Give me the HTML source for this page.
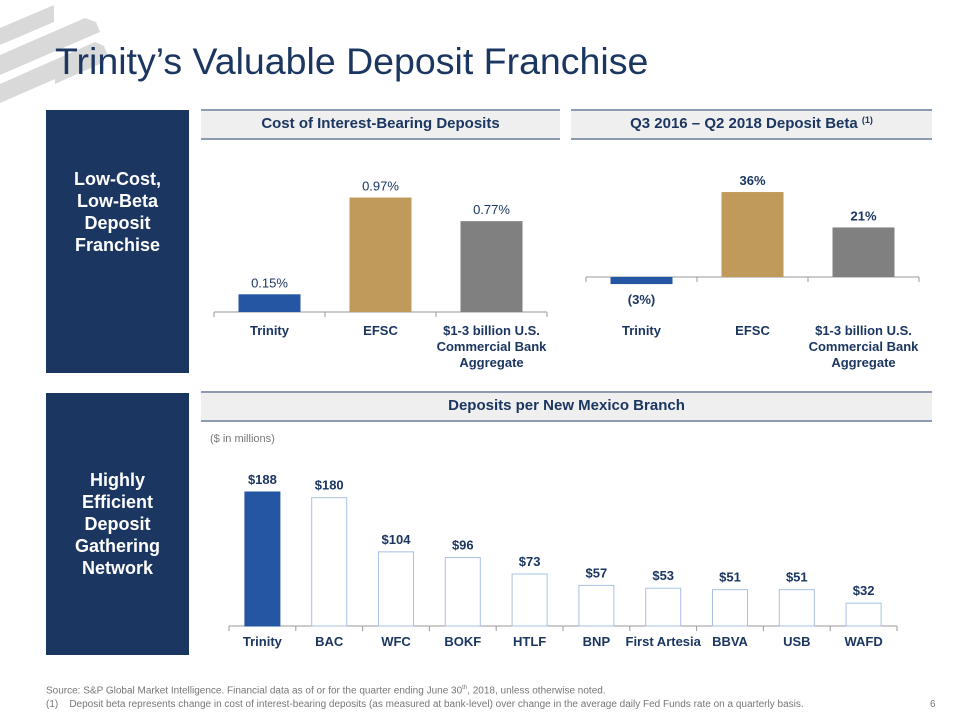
<!DOCTYPE html>
<html><head><meta charset="utf-8">
<style>
body{margin:0;width:960px;height:720px;background:#fff;font-family:"Liberation Sans",Arial,sans-serif;overflow:hidden;position:relative}
.abs{position:absolute}
.navy{background:#1b3660;color:#fff;font-weight:bold;font-size:18px;text-align:center;display:flex;align-items:center;justify-content:center;line-height:22px}
.hdr{background:#efefef;border-top:2px solid #8c9bb0;border-bottom:2px solid #8c9bb0;color:#1b3660;font-weight:bold;font-size:15px;text-align:center;box-sizing:border-box;line-height:26px}
.sup{font-size:9px;position:relative;top:-5px;line-height:0}
</style></head><body>
<svg class="abs" style="left:0;top:0" width="120" height="110">
<g fill="#d9d9d9"><polygon points="0,28 54,5 54,22 0,45"/><polygon points="0,55 85,18 96,22 100,32 0,75"/><polygon points="0,84 95,42 104,46 108,56 0,103"/><polygon points="55,72 100,52 104,62 55,84"/></g>
</svg>
<div class="abs" style="left:55px;top:40px;font-size:37.5px;color:#1b3660">Trinity’s Valuable Deposit Franchise</div>

<div class="abs navy" style="left:46px;top:110px;width:143px;height:263px"><div style="margin-top:-60px">Low-Cost,<br>Low-Beta<br>Deposit<br>Franchise</div></div>
<div class="abs navy" style="left:46px;top:393px;width:143px;height:262px"><div>Highly<br>Efficient<br>Deposit<br>Gathering<br>Network</div></div>

<div class="abs hdr" style="left:201px;top:109px;width:359px;height:31px">Cost of Interest-Bearing Deposits</div>
<div class="abs hdr" style="left:571px;top:109px;width:361px;height:31px">Q3 2016 – Q2 2018 Deposit Beta <span class="sup">(1)</span></div>
<div class="abs hdr" style="left:201px;top:391px;width:731px;height:31px">Deposits per New Mexico Branch</div>
<div class="abs" style="left:210px;top:433px;font-size:11px;color:#777">($ in millions)</div>

<svg id="chart" class="abs" style="left:0;top:0" width="960" height="720"></svg>

<div class="abs" style="left:46px;top:685px;font-size:10px;color:#777">Source: S&amp;P Global Market Intelligence. Financial data as of or for the quarter ending June 30<sup style="font-size:6px">th</sup>, 2018, unless otherwise noted.</div>
<div class="abs" style="left:46px;top:699px;font-size:10px;color:#777">(1)&nbsp;&nbsp;&nbsp; Deposit beta represents change in cost of interest-bearing deposits (as measured at bank-level) over change in the average daily Fed Funds rate on a quarterly basis.</div>
<div class="abs" style="left:930px;top:699px;font-size:10px;color:#777">6</div>

<script>
const costCats=[["Trinity"],["EFSC"],["$1-3 billion U.S.","Commercial Bank","Aggregate"]];
const costVals=[0.15,0.97,0.77];
const costLabels=["0.15%","0.97%","0.77%"];
const betaCats=[["Trinity"],["EFSC"],["$1-3 billion U.S.","Commercial Bank","Aggregate"]];
const betaVals=[-3,36,21];
const betaLabels=["(3%)","36%","21%"];
const branchCats=["Trinity","BAC","WFC","BOKF","HTLF","BNP","First Artesia","BBVA","USB","WAFD"];
const branchVals=[188,180,104,96,73,57,53,51,51,32];
const branchLabels=["$188","$180","$104","$96","$73","$57","$53","$51","$51","$32"];
const colors3=["#2456a4","#c09a5b","#808080"];

const svg=document.getElementById('chart');
const NS="http://www.w3.org/2000/svg";
function mk(tag,attrs){const e=document.createElementNS(NS,tag);for(const k in attrs)e.setAttribute(k,attrs[k]);svg.appendChild(e);return e;}
function txt(x,y,s,size,fill,weight){const t=mk('text',{x:x,y:y,'text-anchor':'middle','font-size':size,fill:fill,'font-weight':weight||'normal','font-family':'Liberation Sans, Arial, sans-serif'});t.textContent=s;return t;}

function smallChart(x0,step,y0,scale,cats,vals,labels,name,catY){
  const n=cats.length;
  const ax=mk('line',{x1:x0,y1:y0,x2:x0+step*n,y2:y0,stroke:'#999','stroke-width':1});
  
  
  for(let i=0;i<=n;i++){mk('line',{x1:x0+step*i,y1:y0,x2:x0+step*i,y2:y0+5,stroke:'#999'});}
  vals.forEach((v,i)=>{
    const cx=x0+step*(i+0.5);const h=Math.abs(v)*scale;
    const y=v>=0?y0-h:y0;
    const r=mk('rect',{x:cx-31,y:y,width:62,height:h,fill:colors3[i]});
    
    
    const ly=v>=0?y0-h-7:y0+h+20;
    const t=txt(cx,ly,labels[i],13,'#1b3660',name==='beta'?'bold':'normal');
    
    
    cats[i].forEach((line,j)=>{const c=txt(cx,catY+j*16,line,13,'#1b3660','bold');
      
      });
  });
}
smallChart(214,111,312,118,costCats,costVals,costLabels,'cost',335);
smallChart(586,111,277,2.36,betaCats,betaVals,betaLabels,'beta',335);

(function(){
  const x0=229,step=66.8,y0=626,scale=0.7128;
  const ax=mk('line',{x1:x0,y1:y0,x2:x0+step*branchCats.length,y2:y0,stroke:'#999'});
  
  
  for(let i=0;i<=branchCats.length;i++)mk('line',{x1:x0+step*i,y1:y0,x2:x0+step*i,y2:y0+5,stroke:'#999'});
  branchVals.forEach((v,i)=>{
    const cx=x0+step*(i+0.5);const h=v*scale;
    const r=mk('rect',{x:cx-17.5,y:y0-h,width:35,height:h,fill:i===0?'#2456a4':'#fff',stroke:i===0?'#2456a4':'#a8c0e4','stroke-width':1});
    
    
    const t=txt(cx,y0-h-8,branchLabels[i],13,'#1b3660','bold');
    
    
    const c=txt(cx,y0+20,branchCats[i],13,'#1b3660','bold');
    
    
  });
})();
</script>
</body></html>
